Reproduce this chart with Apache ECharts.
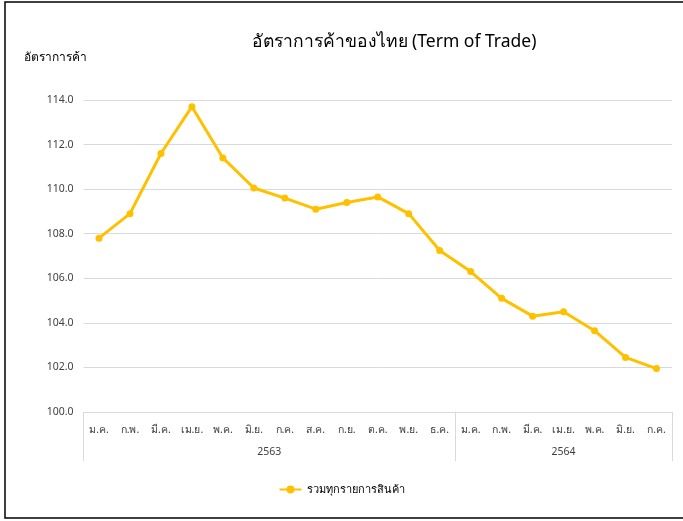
<!DOCTYPE html>
<html>
<head>
<meta charset="utf-8">
<script src="https://cdn.jsdelivr.net/npm/echarts@6/dist/echarts.min.js"></script>
<style>
html,body{margin:0;padding:0;background:#fff;}
#c{width:683px;height:521px;}
</style>
</head>
<body>
<div id="c"></div>
<script>
var months = ['ม.ค.','ก.พ.','มี.ค.','เม.ย.','พ.ค.','มิ.ย.','ก.ค.','ส.ค.','ก.ย.','ต.ค.','พ.ย.','ธ.ค.','ม.ค.','ก.พ.','มี.ค.','เม.ย.','พ.ค.','มิ.ย.','ก.ค.'];
var years = ['2563','2564'];
var yearSpans = [12, 7];
var values = [107.8,108.9,111.6,113.7,111.4,110.05,109.6,109.1,109.4,109.65,108.9,107.25,106.3,105.1,104.3,104.5,103.65,102.45,101.95];
var seriesName = 'รวมทุกรายการสินค้า';
var titleText = 'อัตราการค้าของไทย (Term of Trade)';
var yAxisName = 'อัตราการค้า';

var font = '"Noto Sans", "Noto Sans CJK SC", sans-serif';
var yearCenters = [], yearBounds = [0], acc = 0;
for (var i = 0; i < yearSpans.length; i++) {
  yearCenters.push(acc + yearSpans[i] / 2);
  acc += yearSpans[i];
  yearBounds.push(acc);
}

var chart = echarts.init(document.getElementById('c'));
chart.setOption({
  backgroundColor: '#fff',
  animation: false,
  title: {
    text: titleText,
    left: 389, top: 28, textAlign: 'center',
    textStyle: {fontFamily: font, fontSize: 17.5, fontWeight: 'normal', color: '#000'}
  },
  graphic: [
    {type: 'rect', shape: {x: 5, y: 2, width: 690, height: 516}, style: {fill: null, stroke: '#000', lineWidth: 1.5}, silent: true},
    {type: 'text', left: 24, top: 52, style: {text: yAxisName, font: '12px ' + font, fill: '#000'}}
  ],
  grid: {left: 83.5, right: 11, top: 100, bottom: 109, containLabel: false},
  legend: {
    bottom: 21, left: 'center',
    itemWidth: 22, itemHeight: 10,
    textStyle: {fontFamily: font, fontSize: 11, color: '#000'},
    data: [seriesName]
  },
  xAxis: [
    {
      type: 'category', data: months, boundaryGap: true,
      axisLine: {show: true, lineStyle: {color: '#d9d9d9'}},
      axisTick: {show: false},
      axisLabel: {interval: 0, margin: 13, fontFamily: font, fontSize: 10.5, color: '#404040'}
    },
    {
      type: 'value', position: 'bottom', min: 0, max: months.length,
      axisLine: {show: false},
      splitLine: {show: false},
      axisTick: {show: true, customValues: yearBounds, length: 49, lineStyle: {color: '#d9d9d9'}},
      axisLabel: {customValues: yearCenters, margin: 35, fontFamily: font, fontSize: 10.5, color: '#404040',
        formatter: function (v) { var k = yearCenters.indexOf(v); return k >= 0 ? years[k] : ''; }}
    }
  ],
  yAxis: {
    type: 'value', min: 100, max: 114, interval: 2,
    axisLine: {show: false}, axisTick: {show: false},
    splitLine: {lineStyle: {color: '#d9d9d9', width: 1}},
    axisLabel: {margin: 10, fontFamily: font, fontSize: 10.5, color: '#404040',
      formatter: function (v) { return v.toFixed(1); }}
  },
  series: [{
    name: seriesName, type: 'line', data: values,
    xAxisIndex: 0,
    symbol: 'circle', symbolSize: 7,
    lineStyle: {color: '#FFC000', width: 3},
    itemStyle: {color: '#FFC000'}
  }]
});
</script>
</body>
</html>
